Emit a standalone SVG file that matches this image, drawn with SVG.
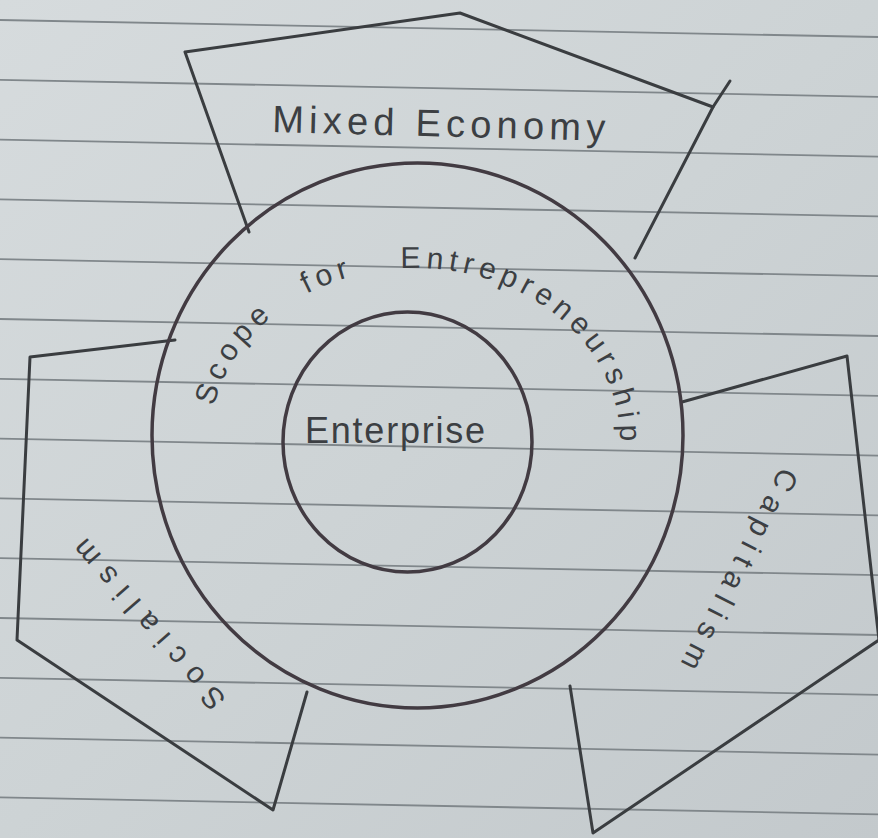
<svg xmlns="http://www.w3.org/2000/svg" width="878" height="838" viewBox="0 0 878 838">
  <defs>
    <linearGradient id="paperGrad" x1="0" y1="0" x2="1" y2="1">
      <stop offset="0" stop-color="#d6dbdd"/>
      <stop offset="0.5" stop-color="#cdd3d5"/>
      <stop offset="1" stop-color="#c3c9cc"/>
    </linearGradient>
    <path id="ringArc" d="M 212 416 A 205 172 0 1 1 615.5 475.8"/>
    <style>
      .rule { stroke: #80878b; stroke-width: 1.8; fill: none; }
      .pen { stroke: #3a3d40; stroke-width: 3; fill: none; stroke-linejoin: round; stroke-linecap: round; }
      .ring { stroke: #423b42; stroke-width: 3.5; fill: none; }
      .hand { font-family: "Liberation Sans", "DejaVu Sans", sans-serif; fill: #3c3f43; }
      .arc { font-size: 30px; letter-spacing: 5.5px; }
    </style>
  </defs>

  <rect x="0" y="0" width="878" height="838" fill="url(#paperGrad)"/>

  <g id="paper-rules">
    <line class="rule" x1="0" y1="20" x2="878" y2="37"/>
    <line class="rule" x1="0" y1="79.8" x2="878" y2="96.8"/>
    <line class="rule" x1="0" y1="139.6" x2="878" y2="156.6"/>
    <line class="rule" x1="0" y1="199.4" x2="878" y2="216.4"/>
    <line class="rule" x1="0" y1="259.2" x2="878" y2="276.2"/>
    <line class="rule" x1="0" y1="319" x2="878" y2="336"/>
    <line class="rule" x1="0" y1="378.8" x2="878" y2="395.8"/>
    <line class="rule" x1="0" y1="438.6" x2="878" y2="455.6"/>
    <line class="rule" x1="0" y1="498.4" x2="878" y2="515.4"/>
    <line class="rule" x1="0" y1="558.2" x2="878" y2="575.2"/>
    <line class="rule" x1="0" y1="618" x2="878" y2="635"/>
    <line class="rule" x1="0" y1="677.8" x2="878" y2="694.8"/>
    <line class="rule" x1="0" y1="737.6" x2="878" y2="754.6"/>
    <line class="rule" x1="0" y1="797.4" x2="878" y2="814.4"/>
  </g>

  <g id="connectors"></g>

  <g id="mixed-economy">
    <path class="pen" d="M 249 232 L 185 52 L 460 13 L 713 107 L 635 258"/>
    <path class="pen" d="M 713 107 L 730 81"/>
    <text class="hand" x="272" y="132" font-size="38" textLength="333" lengthAdjust="spacing" transform="rotate(1.5 272 132)">Mixed Economy</text>
  </g>

  <g id="capitalism">
    <path class="pen" d="M 682 402 L 847 356 L 879 640 L 593 833 L 570 686"/>
    <text class="hand" x="781" y="466" font-size="30" textLength="222" lengthAdjust="spacing" transform="rotate(117 781 466)">Capitalism</text>
  </g>

  <g id="socialism">
    <path class="pen" d="M 175 340 L 30 357 L 17 640 L 273 810 L 307 692"/>
    <text class="hand" x="227" y="699" font-size="30" textLength="215" lengthAdjust="spacing" transform="rotate(229 227 699)">Socialism</text>
  </g>

  <g id="scope-for-entrepreneurship">
    <ellipse class="ring" cx="417.5" cy="435.5" rx="265.5" ry="272.5"/>
    <text class="hand arc"><textPath href="#ringArc" startOffset="10">Scope</textPath></text>
    <text class="hand arc"><textPath href="#ringArc" startOffset="160">for</textPath></text>
    <text class="hand arc"><textPath href="#ringArc" startOffset="258">Entrepren</textPath></text>
    <text class="hand arc"><textPath href="#ringArc" startOffset="439">eurship</textPath></text>
  </g>

  <g id="enterprise">
    <ellipse class="ring" cx="407.5" cy="442" rx="124.5" ry="130"/>
    <text class="hand" x="305" y="443" font-size="36" textLength="180" lengthAdjust="spacing">Enterprise</text>
  </g>
</svg>
